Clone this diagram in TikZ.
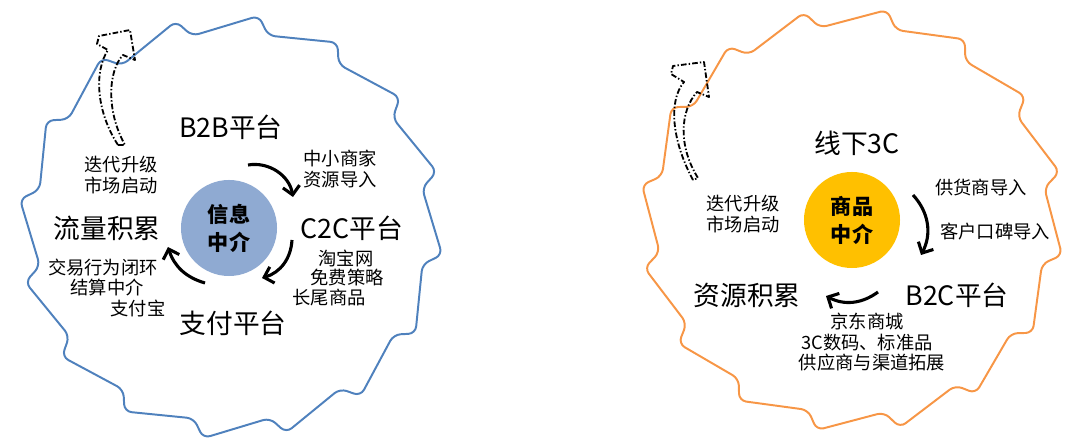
\documentclass[tikz,border=0pt]{standalone}
\usepackage{fontspec}
\setmainfont{Noto Sans CJK SC}
\usepackage{xcolor}
\usepackage{tikz}
\usetikzlibrary{positioning}
\usetikzlibrary{arrows.meta}
\definecolor{ringblue}{RGB}{79,129,189}
\definecolor{ringorange}{RGB}{247,150,70}
\definecolor{hubblue}{RGB}{143,170,210}
\definecolor{hubgold}{RGB}{255,192,0}
\tikzset{flow/.style = {-{Straight Barb[length=6pt,width=12pt]}, line width=2.2pt}}
\tikzset{iterarrow/.style = {line width=1.3pt, dash pattern=on 4pt off 1.5pt on 1pt off 1.5pt, line join=round}}

\begin{document}
\begin{tikzpicture}[x=0.025cm,y=0.025cm,
  big/.style={font=\fontsize{19}{21}\selectfont, inner sep=0pt},
  small/.style={font=\fontsize{13}{15}\selectfont, inner sep=0pt, align=center},
  hub/.style={circle, minimum size=2.4cm, inner sep=0pt, align=center, font=\fontsize{15}{20}\selectfont\bfseries}]
\useasboundingbox (0,0) rectangle (1080,441);

% gear outlines
\draw[ringblue, line width=1.4pt, rounded corners=5pt, shift={(231,214)}]
  (101.5:195)
  \foreach \a in {103.5,81,...,-211.5} { -- ({\a-21}:213) -- ({\a-24.5}:195) }
  -- (-255:213) -- cycle;
\draw[ringorange, line width=1.4pt, rounded corners=5pt, shift={(852,221)}]
  (77:195)
  \foreach \a in {79,56.5,...,-236} { -- ({\a-21}:213) -- ({\a-24.5}:195) }
  -- (-279.5:213) -- cycle;

% iteration arrows
\draw[iterarrow] (118,296) .. controls (96,330) and (94,370) .. (108,391) -- (97,397) -- (99,405)
  -- (130,411) -- (135,381) -- (123,386) .. controls (108,370) and (106,330) .. (125,296) -- cycle;
\draw[iterarrow] (693,261) .. controls (672,300) and (668,340) .. (684,359) -- (671,367) -- (673,375)
  -- (704,379) -- (709,344) -- (697,349) .. controls (680,330) and (678,295) .. (698,263) -- cycle;

% left cycle
\node[hub, fill=hubblue] (info) at (229,213) {信息\\中介};
\node[big] (b2b) at (231,314) {B2B平台};
\node[big] (c2c) at (352,213) {C2C平台};
\node[big] (pay) at (233,118) {支付平台};
\node[big] (traffic) at (107,213) {流量积累};
\node[small] (smb) at (340,272) {中小商家\\资源导入};
\node[small] (tb1) at (346,183) {淘宝网};
\node[small] (tb2) at (347,163) {免费策略};
\node[small] (tb3) at (329,143) {长尾商品};
\node[small] (ap1) at (103,173) {交易行为闭环};
\node[small] (ap2) at (107,153) {结算中介};
\node[small] (ap3) at (138,133) {支付宝};
\node[small] (iterL) at (121,266) {迭代升级\\市场启动};

\coordinate (f1a) at (248,276);
\coordinate (f1b) at (293,244);
\coordinate (f2a) at (292,201);
\coordinate (f2b) at (262,163);
\coordinate (f3a) at (205,158);
\coordinate (f3b) at (168,194);
\path[flow] (f1a) edge[bend left=45] (f1b);
\path[flow] (f2a) edge[bend left=35] (f2b);
\path[flow] (f3a) edge[bend left=28] (f3b);

% right cycle
\node[hub, fill=hubgold] (goods) at (852,221) {商品\\中介};
\node[big] (offline) at (857,298) {线下3C};
\node[big] (b2c) at (957,146) {B2C平台};
\node[big] (res) at (747,146) {资源积累};
\node[small] (sup) at (981,253) {供货商导入};
\node[small] (wom) at (995,209) {客户口碑导入};
\node[small] (jd1) at (867,119) {京东商城};
\node[small] (jd2) at (867,98) {3C数码、标准品};
\node[small] (jd3) at (872,78) {供应商与渠道拓展};
\node[small] (iterR) at (743,227) {迭代升级\\市场启动};

\coordinate (g1a) at (913,246);
\coordinate (g1b) at (921,186);
\coordinate (g2a) at (878,149);
\coordinate (g2b) at (826,145);
\path[flow] (g1a) edge[bend left=35] (g1b);
\path[flow] (g2a) edge[bend left=32] (g2b);
\end{tikzpicture}
\end{document}
